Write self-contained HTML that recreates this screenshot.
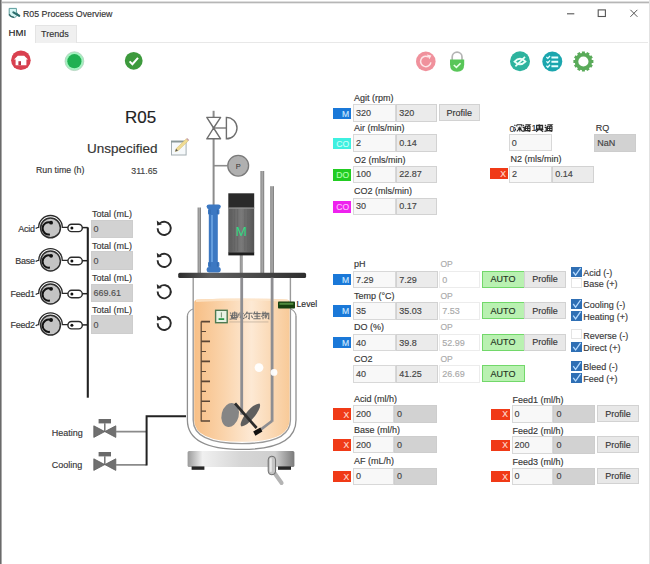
<!DOCTYPE html><html><head><meta charset="utf-8"><style>
html,body{margin:0;padding:0;background:#fff;}
#root{position:relative;width:650px;height:564px;overflow:hidden;background:#fff;font-family:"Liberation Sans",sans-serif;}
.t{position:absolute;white-space:nowrap;font-family:"Liberation Sans",sans-serif;-webkit-text-stroke:0.15px currentColor;}
.b{position:absolute;box-sizing:border-box;border:1px solid #d8d8d8;}
.w{background:#f8f8f8;}
.g1{background:#ebebeb;border-color:#d2d2d2;}
.g2{background:#d2d2d2;border-color:#cdcdcd;}
.op{background:#fff;border-color:#ececec;}
.auto{background:#b9f1b1;border-color:#72d86a;}
.prof{background:#e8e8e8;border-color:#d2d2d2;}
svg{position:absolute;left:0;top:0;}
</style></head><body><div id="root">

<div style="position:absolute;left:0;top:1px;width:650px;height:1px;background:#dedede"></div>
<div style="position:absolute;left:0;top:2px;width:650px;height:1px;background:#b6b6b6"></div>
<div style="position:absolute;left:0;top:3px;width:650px;height:1px;background:#e8e8e8"></div>
<div style="position:absolute;left:0;top:0;width:1px;height:564px;background:#6a6a6a"></div>
<div style="position:absolute;left:1px;top:0;width:1px;height:564px;background:#a8a8a8"></div>
<div style="position:absolute;left:649px;top:0;width:1px;height:564px;background:#e2e2e2"></div>
<div class="t" style="left:23px;top:7.8px;font-size:8.8px;line-height:12px;color:#333;">R05 Process Overview</div>
<div class="b" style="left:35px;top:25px;width:42px;height:18px;background:#f0f0f0;border-color:#e4e4e4;border-bottom:none"></div>
<div style="position:absolute;left:77px;top:42px;width:571px;height:1px;background:#e8e8e8"></div>
<div class="t" style="left:8.5px;top:26.6px;font-size:9.6px;line-height:12px;color:#222;">HMI</div>
<div class="t" style="left:41px;top:27.5px;font-size:9px;line-height:12px;color:#333;">Trends</div>
<div class="t" style="left:125px;top:107.5px;font-size:17px;line-height:20px;color:#222;">R05</div>
<div class="t" style="left:87px;top:139.5px;font-size:13.5px;line-height:18px;color:#333;">Unspecified</div>
<div class="t" style="left:36px;top:163.5px;font-size:8.8px;line-height:12px;color:#363636;">Run time (h)</div>
<div class="t" style="left:-42.5px;width:200px;text-align:right;top:164.7px;font-size:8.8px;line-height:12px;color:#444;">311.65</div>
<div class="t" style="left:92px;top:208.4px;font-size:9px;line-height:12px;color:#363636;">Total (mL)</div>
<div class="b g2" style="left:91px;top:219.8px;width:42.0px;height:18.6px;"></div>
<div class="t" style="left:93.5px;top:223.1px;font-size:9px;line-height:12px;color:#505050;">0</div>
<div class="t" style="left:92px;top:240.0px;font-size:9px;line-height:12px;color:#363636;">Total (mL)</div>
<div class="b g2" style="left:91px;top:251.4px;width:42.0px;height:18.6px;"></div>
<div class="t" style="left:93.5px;top:254.7px;font-size:9px;line-height:12px;color:#505050;">0</div>
<div class="t" style="left:92px;top:272.2px;font-size:9px;line-height:12px;color:#363636;">Total (mL)</div>
<div class="b g2" style="left:91px;top:283.6px;width:42.0px;height:18.6px;"></div>
<div class="t" style="left:93.5px;top:286.9px;font-size:9px;line-height:12px;color:#505050;">669.61</div>
<div class="t" style="left:92px;top:304.0px;font-size:9px;line-height:12px;color:#363636;">Total (mL)</div>
<div class="b g2" style="left:91px;top:315.4px;width:42.0px;height:18.6px;"></div>
<div class="t" style="left:93.5px;top:318.7px;font-size:9px;line-height:12px;color:#505050;">0</div>
<div class="t" style="left:-165.4px;width:200px;text-align:right;top:222.8px;font-size:9px;line-height:12px;color:#363636;letter-spacing:-0.3px;">Acid</div>
<div class="t" style="left:-165.4px;width:200px;text-align:right;top:255.0px;font-size:9px;line-height:12px;color:#363636;letter-spacing:-0.3px;">Base</div>
<div class="t" style="left:-165.4px;width:200px;text-align:right;top:287.5px;font-size:9px;line-height:12px;color:#363636;letter-spacing:-0.3px;">Feed1</div>
<div class="t" style="left:-165.4px;width:200px;text-align:right;top:319.2px;font-size:9px;line-height:12px;color:#363636;letter-spacing:-0.3px;">Feed2</div>
<div class="t" style="left:51.8px;top:426.7px;font-size:9px;line-height:12px;color:#363636;">Heating</div>
<div class="t" style="left:51.8px;top:459.2px;font-size:9px;line-height:12px;color:#363636;">Cooling</div>
<div class="t" style="left:296.6px;top:298.2px;font-size:8.6px;line-height:12px;color:#2a2a2a;">Level</div>
<div class="t" style="left:354px;top:92.0px;font-size:9px;line-height:12px;color:#363636;">Agit (rpm)</div>
<div class="b" style="left:332.8px;top:107.5px;width:18.0px;height:11.7px;background:#1a78d8;border:none"></div>
<div class="t" style="left:149.2px;width:200px;text-align:right;top:107.6px;font-size:8.6px;line-height:12px;color:#cfe8ff;">M</div>
<div class="b w" style="left:353px;top:104.2px;width:42.5px;height:17.5px;"></div>
<div class="t" style="left:356px;top:107.0px;font-size:9px;line-height:12px;color:#444;">320</div>
<div class="b g1" style="left:396.3px;top:104.2px;width:41.2px;height:17.5px;"></div>
<div class="t" style="left:399.3px;top:107.0px;font-size:9px;line-height:12px;color:#444;">320</div>
<div class="b prof" style="left:438.5px;top:104.2px;width:41.5px;height:16.5px;"></div>
<div class="t" style="left:359.25px;width:200px;text-align:center;top:106.5px;font-size:9px;line-height:12px;color:#363636;">Profile</div>
<div class="t" style="left:354px;top:122.2px;font-size:9px;line-height:12px;color:#363636;">Air (mls/min)</div>
<div class="b" style="left:332.8px;top:137.70000000000002px;width:18.0px;height:11.7px;background:#3ef0e0;border:none"></div>
<div class="t" style="left:149.2px;width:200px;text-align:right;top:137.9px;font-size:8.6px;line-height:12px;color:#c8fff8;">CO</div>
<div class="b w" style="left:353px;top:134.4px;width:42.5px;height:17.5px;"></div>
<div class="t" style="left:356px;top:137.2px;font-size:9px;line-height:12px;color:#444;">2</div>
<div class="b g1" style="left:396.3px;top:134.4px;width:41.2px;height:17.5px;"></div>
<div class="t" style="left:399.3px;top:137.2px;font-size:9px;line-height:12px;color:#444;">0.14</div>
<div class="t" style="left:354px;top:153.5px;font-size:9px;line-height:12px;color:#363636;">O2 (mls/min)</div>
<div class="b" style="left:332.8px;top:169.0px;width:18.0px;height:11.7px;background:#22cc22;border:none"></div>
<div class="t" style="left:149.2px;width:200px;text-align:right;top:169.2px;font-size:8.6px;line-height:12px;color:#b0ffb0;">DO</div>
<div class="b w" style="left:353px;top:165.7px;width:42.5px;height:17.5px;"></div>
<div class="t" style="left:356px;top:168.4px;font-size:9px;line-height:12px;color:#444;">100</div>
<div class="b g1" style="left:396.3px;top:165.7px;width:41.2px;height:17.5px;"></div>
<div class="t" style="left:399.3px;top:168.4px;font-size:9px;line-height:12px;color:#444;">22.87</div>
<div class="t" style="left:354px;top:185.4px;font-size:9px;line-height:12px;color:#363636;">CO2 (mls/min)</div>
<div class="b" style="left:332.8px;top:200.9px;width:18.0px;height:11.7px;background:#ee22ee;border:none"></div>
<div class="t" style="left:149.2px;width:200px;text-align:right;top:201.1px;font-size:8.6px;line-height:12px;color:#ffc0ff;">CO</div>
<div class="b w" style="left:353px;top:197.6px;width:42.5px;height:17.5px;"></div>
<div class="t" style="left:356px;top:200.3px;font-size:9px;line-height:12px;color:#444;">30</div>
<div class="b g1" style="left:396.3px;top:197.6px;width:41.2px;height:17.5px;"></div>
<div class="t" style="left:399.3px;top:200.3px;font-size:9px;line-height:12px;color:#444;">0.17</div>
<div class="t" style="left:509.4px;top:122.5px;font-size:9px;line-height:12px;color:#333;">0</div>
<div class="t" style="left:531.6px;top:122.2px;font-size:9px;line-height:12px;color:#333;">1</div>
<svg width="650" height="564" style="pointer-events:none"><path d="M514.4000000000001 125.0 l1 0.8 M514.2 127.4 l1.2 0.8 M514.4000000000001 131.4 l1.4 -2.6 M516.8000000000001 124.80000000000001 h5.0 v1.6 M516.8000000000001 124.80000000000001 v1.6 M517.8000000000001 128.0 h3.8 M519.8000000000001 126.4 v5 M519.6 128.4 l-2.8 3 M520.0 128.4 l2.4 3" fill="none" stroke="#2a2a2a" stroke-width="1.1"/><path d="M522.8 124.80000000000001 l1.2 1 M522.6 127.4 h1.6 v3 M522.4 131.4 q4 -1.2 7.8 0 M525.4 124.80000000000001 h4.4 l-1.4 1 M525.4 126.2 h4.6 v4.4 h-4.6 z M525.4 128.4 h4.6 M527.6999999999999 126.2 v4.4" fill="none" stroke="#2a2a2a" stroke-width="1.1"/><path d="M539.6 124.4 l-1 0.8 M536.6 125.4 h6 v3.4 h-6 z M539.6 125.4 v3.4 M537.6 127.0 h4 M535.6 129.6 h7.8 M539.6 128.8 l-3.6 3 M539.6 129.4 l3.6 2.4" fill="none" stroke="#2a2a2a" stroke-width="1.1"/><path d="M544.8 124.80000000000001 l1.2 1 M544.6 127.4 h1.6 v3 M544.4 131.4 q4 -1.2 7.8 0 M547.4 124.80000000000001 h4.4 l-1.4 1 M547.4 126.2 h4.6 v4.4 h-4.6 z M547.4 128.4 h4.6 M549.6999999999999 126.2 v4.4" fill="none" stroke="#2a2a2a" stroke-width="1.1"/></svg>
<div class="b w" style="left:508.8px;top:134.1px;width:42.9px;height:17.4px;"></div>
<div class="t" style="left:511.8px;top:136.8px;font-size:9px;line-height:12px;color:#444;">0</div>
<div class="t" style="left:595.8px;top:121.6px;font-size:9px;line-height:12px;color:#363636;">RQ</div>
<div class="b g2" style="left:594.2px;top:134.2px;width:42.3px;height:17.7px;"></div>
<div class="t" style="left:597.2px;top:137.1px;font-size:9px;line-height:12px;color:#444;">NaN</div>
<div class="t" style="left:510.5px;top:153.0px;font-size:9px;line-height:12px;color:#363636;">N2 (mls/min)</div>
<div class="b" style="left:490px;top:168.2px;width:17.7px;height:11.3px;background:#f03a17;border:none"></div>
<div class="t" style="left:306.09999999999997px;width:200px;text-align:right;top:168.2px;font-size:8.6px;line-height:12px;color:#ffd8cc;">X</div>
<div class="b w" style="left:509px;top:165.5px;width:42.8px;height:17.7px;"></div>
<div class="t" style="left:512px;top:168.3px;font-size:9px;line-height:12px;color:#444;">2</div>
<div class="b g1" style="left:552.2px;top:165.5px;width:42.0px;height:17.7px;"></div>
<div class="t" style="left:555.2px;top:168.3px;font-size:9px;line-height:12px;color:#444;">0.14</div>
<div class="t" style="left:354px;top:258.2px;font-size:9px;line-height:12px;color:#363636;">pH</div>
<div class="t" style="left:440.5px;top:258.0px;font-size:8.5px;line-height:12px;color:#aaa;">OP</div>
<div class="b" style="left:332.8px;top:273.8px;width:18.0px;height:11.2px;background:#1a78d8;border:none"></div>
<div class="t" style="left:149.2px;width:200px;text-align:right;top:273.7px;font-size:8.6px;line-height:12px;color:#cfe8ff;">M</div>
<div class="b w" style="left:353px;top:270.6px;width:42.5px;height:17.7px;"></div>
<div class="t" style="left:356px;top:273.5px;font-size:9px;line-height:12px;color:#444;">7.29</div>
<div class="b g1" style="left:396.3px;top:270.6px;width:41.7px;height:17.7px;"></div>
<div class="t" style="left:399.3px;top:273.5px;font-size:9px;line-height:12px;color:#444;">7.29</div>
<div class="b op" style="left:439.2px;top:270.6px;width:40.8px;height:17.7px;"></div>
<div class="t" style="left:442.2px;top:273.5px;font-size:9px;line-height:12px;color:#aaa;">0</div>
<div class="b auto" style="left:481.5px;top:270.6px;width:43.0px;height:17.0px;"></div>
<div class="t" style="left:403.0px;width:200px;text-align:center;top:273.1px;font-size:9px;line-height:12px;color:#1e321e;">AUTO</div>
<div class="b prof" style="left:524.2px;top:270.6px;width:41.8px;height:17.0px;"></div>
<div class="t" style="left:445.1px;width:200px;text-align:center;top:273.1px;font-size:9px;line-height:12px;color:#363636;">Profile</div>
<div class="t" style="left:354px;top:289.8px;font-size:9px;line-height:12px;color:#363636;">Temp (°C)</div>
<div class="t" style="left:440.5px;top:289.6px;font-size:8.5px;line-height:12px;color:#aaa;">OP</div>
<div class="b" style="left:332.8px;top:305.4px;width:18.0px;height:11.2px;background:#1a78d8;border:none"></div>
<div class="t" style="left:149.2px;width:200px;text-align:right;top:305.3px;font-size:8.6px;line-height:12px;color:#cfe8ff;">M</div>
<div class="b w" style="left:353px;top:302.2px;width:42.5px;height:17.7px;"></div>
<div class="t" style="left:356px;top:305.0px;font-size:9px;line-height:12px;color:#444;">35</div>
<div class="b g1" style="left:396.3px;top:302.2px;width:41.7px;height:17.7px;"></div>
<div class="t" style="left:399.3px;top:305.0px;font-size:9px;line-height:12px;color:#444;">35.03</div>
<div class="b op" style="left:439.2px;top:302.2px;width:40.8px;height:17.7px;"></div>
<div class="t" style="left:442.2px;top:305.0px;font-size:9px;line-height:12px;color:#aaa;">7.53</div>
<div class="b auto" style="left:481.5px;top:302.2px;width:43.0px;height:17.0px;"></div>
<div class="t" style="left:403.0px;width:200px;text-align:center;top:304.7px;font-size:9px;line-height:12px;color:#1e321e;">AUTO</div>
<div class="b prof" style="left:524.2px;top:302.2px;width:41.8px;height:17.0px;"></div>
<div class="t" style="left:445.1px;width:200px;text-align:center;top:304.7px;font-size:9px;line-height:12px;color:#363636;">Profile</div>
<div class="t" style="left:354px;top:321.2px;font-size:9px;line-height:12px;color:#363636;">DO (%)</div>
<div class="t" style="left:440.5px;top:321.0px;font-size:8.5px;line-height:12px;color:#aaa;">OP</div>
<div class="b" style="left:332.8px;top:336.8px;width:18.0px;height:11.2px;background:#1a78d8;border:none"></div>
<div class="t" style="left:149.2px;width:200px;text-align:right;top:336.7px;font-size:8.6px;line-height:12px;color:#cfe8ff;">M</div>
<div class="b w" style="left:353px;top:333.6px;width:42.5px;height:17.7px;"></div>
<div class="t" style="left:356px;top:336.5px;font-size:9px;line-height:12px;color:#444;">40</div>
<div class="b g1" style="left:396.3px;top:333.6px;width:41.7px;height:17.7px;"></div>
<div class="t" style="left:399.3px;top:336.5px;font-size:9px;line-height:12px;color:#444;">39.8</div>
<div class="b op" style="left:439.2px;top:333.6px;width:40.8px;height:17.7px;"></div>
<div class="t" style="left:442.2px;top:336.5px;font-size:9px;line-height:12px;color:#aaa;">52.99</div>
<div class="b auto" style="left:481.5px;top:333.6px;width:43.0px;height:17.0px;"></div>
<div class="t" style="left:403.0px;width:200px;text-align:center;top:336.1px;font-size:9px;line-height:12px;color:#1e321e;">AUTO</div>
<div class="b prof" style="left:524.2px;top:333.6px;width:41.8px;height:17.0px;"></div>
<div class="t" style="left:445.1px;width:200px;text-align:center;top:336.1px;font-size:9px;line-height:12px;color:#363636;">Profile</div>
<div class="t" style="left:354px;top:352.7px;font-size:9px;line-height:12px;color:#363636;">CO2</div>
<div class="t" style="left:440.5px;top:352.5px;font-size:8.5px;line-height:12px;color:#aaa;">OP</div>
<div class="b w" style="left:353px;top:365.1px;width:42.5px;height:17.7px;"></div>
<div class="t" style="left:356px;top:368.0px;font-size:9px;line-height:12px;color:#444;">40</div>
<div class="b g1" style="left:396.3px;top:365.1px;width:41.7px;height:17.7px;"></div>
<div class="t" style="left:399.3px;top:368.0px;font-size:9px;line-height:12px;color:#444;">41.25</div>
<div class="b op" style="left:439.2px;top:365.1px;width:40.8px;height:17.7px;"></div>
<div class="t" style="left:442.2px;top:368.0px;font-size:9px;line-height:12px;color:#aaa;">26.69</div>
<div class="b auto" style="left:481.5px;top:365.1px;width:43.0px;height:17.0px;"></div>
<div class="t" style="left:403.0px;width:200px;text-align:center;top:367.6px;font-size:9px;line-height:12px;color:#1e321e;">AUTO</div>
<div class="b" style="left:571.4px;top:266.8px;width:10.2px;height:10px;background:#2f6fb4;border:none"></div>
<svg width="650" height="564" style="pointer-events:none"><path d="M573.2 272.0 L575.6 275.1 L580.6 268.0" stroke="#b8dcff" stroke-width="1.3" fill="none"/></svg>
<div class="t" style="left:583.2px;top:267.1px;font-size:9px;line-height:12px;color:#3a3a3a;">Acid (-)</div>
<div class="b" style="left:571.4px;top:277.8px;width:10.2px;height:10px;background:#fff;border-color:#e4e4e4"></div>
<div class="t" style="left:583.2px;top:278.1px;font-size:9px;line-height:12px;color:#3a3a3a;">Base (+)</div>
<div class="b" style="left:571.4px;top:298.8px;width:10.2px;height:10px;background:#2f6fb4;border:none"></div>
<svg width="650" height="564" style="pointer-events:none"><path d="M573.2 304.0 L575.6 307.1 L580.6 300.0" stroke="#b8dcff" stroke-width="1.3" fill="none"/></svg>
<div class="t" style="left:583.2px;top:299.1px;font-size:9px;line-height:12px;color:#3a3a3a;">Cooling (-)</div>
<div class="b" style="left:571.4px;top:310.5px;width:10.2px;height:10px;background:#2f6fb4;border:none"></div>
<svg width="650" height="564" style="pointer-events:none"><path d="M573.2 315.7 L575.6 318.8 L580.6 311.7" stroke="#b8dcff" stroke-width="1.3" fill="none"/></svg>
<div class="t" style="left:583.2px;top:310.8px;font-size:9px;line-height:12px;color:#3a3a3a;">Heating (+)</div>
<div class="b" style="left:571.4px;top:329.3px;width:10.2px;height:10px;background:#fff;border-color:#e4e4e4"></div>
<div class="t" style="left:583.2px;top:329.6px;font-size:9px;line-height:12px;color:#3a3a3a;">Reverse (-)</div>
<div class="b" style="left:571.4px;top:341.7px;width:10.2px;height:10px;background:#2f6fb4;border:none"></div>
<svg width="650" height="564" style="pointer-events:none"><path d="M573.2 346.9 L575.6 350.0 L580.6 342.9" stroke="#b8dcff" stroke-width="1.3" fill="none"/></svg>
<div class="t" style="left:583.2px;top:342.0px;font-size:9px;line-height:12px;color:#3a3a3a;">Direct (+)</div>
<div class="b" style="left:571.4px;top:361px;width:10.2px;height:10px;background:#2f6fb4;border:none"></div>
<svg width="650" height="564" style="pointer-events:none"><path d="M573.2 366.2 L575.6 369.3 L580.6 362.2" stroke="#b8dcff" stroke-width="1.3" fill="none"/></svg>
<div class="t" style="left:583.2px;top:361.3px;font-size:9px;line-height:12px;color:#3a3a3a;">Bleed (-)</div>
<div class="b" style="left:571.4px;top:372.7px;width:10.2px;height:10px;background:#2f6fb4;border:none"></div>
<svg width="650" height="564" style="pointer-events:none"><path d="M573.2 377.9 L575.6 381.0 L580.6 373.9" stroke="#b8dcff" stroke-width="1.3" fill="none"/></svg>
<div class="t" style="left:583.2px;top:373.0px;font-size:9px;line-height:12px;color:#3a3a3a;">Feed (+)</div>
<div class="t" style="left:354px;top:392.8px;font-size:9px;line-height:12px;color:#363636;">Acid (ml/h)</div>
<div class="b" style="left:332.8px;top:408.40000000000003px;width:18.0px;height:11.7px;background:#f03a17;border:none"></div>
<div class="t" style="left:149.2px;width:200px;text-align:right;top:408.6px;font-size:8.6px;line-height:12px;color:#ffd8cc;">X</div>
<div class="b w" style="left:353px;top:405.3px;width:41.0px;height:17.4px;"></div>
<div class="t" style="left:356px;top:408.0px;font-size:9px;line-height:12px;color:#444;">200</div>
<div class="b g2" style="left:394px;top:405.3px;width:43.2px;height:17.4px;"></div>
<div class="t" style="left:397px;top:408.0px;font-size:9px;line-height:12px;color:#444;">0</div>
<div class="t" style="left:354px;top:423.6px;font-size:9px;line-height:12px;color:#363636;">Base (ml/h)</div>
<div class="b" style="left:332.8px;top:439.20000000000005px;width:18.0px;height:11.7px;background:#f03a17;border:none"></div>
<div class="t" style="left:149.2px;width:200px;text-align:right;top:439.4px;font-size:8.6px;line-height:12px;color:#ffd8cc;">X</div>
<div class="b w" style="left:353px;top:436.1px;width:41.0px;height:17.4px;"></div>
<div class="t" style="left:356px;top:438.8px;font-size:9px;line-height:12px;color:#444;">200</div>
<div class="b g2" style="left:394px;top:436.1px;width:43.2px;height:17.4px;"></div>
<div class="t" style="left:397px;top:438.8px;font-size:9px;line-height:12px;color:#444;">0</div>
<div class="t" style="left:354px;top:455.1px;font-size:9px;line-height:12px;color:#363636;">AF (mL/h)</div>
<div class="b" style="left:332.8px;top:470.70000000000005px;width:18.0px;height:11.7px;background:#f03a17;border:none"></div>
<div class="t" style="left:149.2px;width:200px;text-align:right;top:470.9px;font-size:8.6px;line-height:12px;color:#ffd8cc;">X</div>
<div class="b w" style="left:353px;top:467.6px;width:41.0px;height:17.4px;"></div>
<div class="t" style="left:356px;top:470.3px;font-size:9px;line-height:12px;color:#444;">0</div>
<div class="b g2" style="left:394px;top:467.6px;width:43.2px;height:17.4px;"></div>
<div class="t" style="left:397px;top:470.3px;font-size:9px;line-height:12px;color:#444;">0</div>
<div class="t" style="left:512.6px;top:393.8px;font-size:9px;line-height:12px;color:#363636;">Feed1 (ml/h)</div>
<div class="b" style="left:491.2px;top:408.5px;width:18.4px;height:11.0px;background:#f03a17;border:none"></div>
<div class="t" style="left:308.0px;width:200px;text-align:right;top:408.3px;font-size:8.6px;line-height:12px;color:#ffd8cc;">X</div>
<div class="b w" style="left:511.6px;top:405.3px;width:41.8px;height:17.3px;"></div>
<div class="t" style="left:514.6px;top:408.0px;font-size:9px;line-height:12px;color:#444;">0</div>
<div class="b g2" style="left:553.4px;top:405.3px;width:41.9px;height:17.3px;"></div>
<div class="t" style="left:556.4px;top:408.0px;font-size:9px;line-height:12px;color:#444;">0</div>
<div class="b prof" style="left:597px;top:405.3px;width:41.8px;height:16.8px;"></div>
<div class="t" style="left:517.9px;width:200px;text-align:center;top:407.7px;font-size:9px;line-height:12px;color:#363636;">Profile</div>
<div class="t" style="left:512.6px;top:424.8px;font-size:9px;line-height:12px;color:#363636;">Feed2 (ml/h)</div>
<div class="b" style="left:491.2px;top:439.5px;width:18.4px;height:11.0px;background:#f03a17;border:none"></div>
<div class="t" style="left:308.0px;width:200px;text-align:right;top:439.3px;font-size:8.6px;line-height:12px;color:#ffd8cc;">X</div>
<div class="b w" style="left:511.6px;top:436.3px;width:41.8px;height:17.3px;"></div>
<div class="t" style="left:514.6px;top:439.0px;font-size:9px;line-height:12px;color:#444;">200</div>
<div class="b g2" style="left:553.4px;top:436.3px;width:41.9px;height:17.3px;"></div>
<div class="t" style="left:556.4px;top:439.0px;font-size:9px;line-height:12px;color:#444;">0</div>
<div class="b prof" style="left:597px;top:436.3px;width:41.8px;height:16.8px;"></div>
<div class="t" style="left:517.9px;width:200px;text-align:center;top:438.7px;font-size:9px;line-height:12px;color:#363636;">Profile</div>
<div class="t" style="left:512.6px;top:456.1px;font-size:9px;line-height:12px;color:#363636;">Feed3 (ml/h)</div>
<div class="b" style="left:491.2px;top:470.8px;width:18.4px;height:11.0px;background:#f03a17;border:none"></div>
<div class="t" style="left:308.0px;width:200px;text-align:right;top:470.6px;font-size:8.6px;line-height:12px;color:#ffd8cc;">X</div>
<div class="b w" style="left:511.6px;top:467.6px;width:41.8px;height:17.3px;"></div>
<div class="t" style="left:514.6px;top:470.2px;font-size:9px;line-height:12px;color:#444;">0</div>
<div class="b g2" style="left:553.4px;top:467.6px;width:41.9px;height:17.3px;"></div>
<div class="t" style="left:556.4px;top:470.2px;font-size:9px;line-height:12px;color:#444;">0</div>
<div class="b prof" style="left:597px;top:467.6px;width:41.8px;height:16.8px;"></div>
<div class="t" style="left:517.9px;width:200px;text-align:center;top:470.0px;font-size:9px;line-height:12px;color:#363636;">Profile</div>
<svg width="650" height="564" viewBox="0 0 650 564">
<defs>
 <linearGradient id="plateG" x1="0" x2="1" y1="0" y2="0">
  <stop offset="0" stop-color="#2c2c2c"/><stop offset="0.25" stop-color="#5e5e5e"/><stop offset="0.6" stop-color="#4a4a4a"/><stop offset="1" stop-color="#2e2e2e"/>
 </linearGradient>
 <linearGradient id="liqG" x1="0" x2="1" y1="0" y2="0">
  <stop offset="0" stop-color="#f7bf86"/><stop offset="0.3" stop-color="#fad3aa"/><stop offset="0.6" stop-color="#fde9d4"/><stop offset="1" stop-color="#f8ca98"/>
 </linearGradient>
 <linearGradient id="baseG" x1="0" x2="1" y1="0" y2="0">
  <stop offset="0" stop-color="#9a9a9a"/><stop offset="0.14" stop-color="#f0f0f0"/><stop offset="0.5" stop-color="#d6d6d6"/><stop offset="0.82" stop-color="#cfcfcf"/><stop offset="1" stop-color="#7a7a7a"/>
 </linearGradient>
 <linearGradient id="motorG" x1="0" x2="1" y1="0" y2="0">
  <stop offset="0" stop-color="#5a5a5a"/><stop offset="0.5" stop-color="#7a7a7a"/><stop offset="1" stop-color="#555"/>
 </linearGradient>
 <linearGradient id="rodG" x1="0" x2="1" y1="0" y2="0">
  <stop offset="0" stop-color="#808080"/><stop offset="0.5" stop-color="#acacac"/><stop offset="1" stop-color="#787878"/>
 </linearGradient>
 
 
 
</defs>

<!-- title icon -->
<path d="M9.2 8.4 L16.4 8.4 L16.4 12 L18 14.6 L14.8 17.6 Q11 17.4 9.2 15.6 Z" fill="#d6f6f4" stroke="#5c9c9c" stroke-width="1"/>
<path d="M9.4 14.2 Q10 16.6 14 17.4" fill="none" stroke="#2f6060" stroke-width="1.3"/>
<path d="M13.4 12.4 L19.2 15.8" stroke="#2a6e6c" stroke-width="2.2" stroke-linecap="round"/>

<!-- window controls -->
<path d="M567 13.8 L574.3 13.8" stroke="#555" stroke-width="1.1"/>
<rect x="598.2" y="9.9" width="7.2" height="6.6" fill="none" stroke="#555" stroke-width="1.1"/>
<path d="M630.4 9.8 L637.4 16.8 M637.4 9.8 L630.4 16.8" stroke="#555" stroke-width="1"/>

<!-- toolbar icons -->
<circle cx="20.9" cy="60.3" r="9.8" fill="#d9404f"/>
<path d="M14 59.6 L17.8 55.8 L24.2 55.8 L28 59.6 L26.4 59.6 L26.4 65.2 L15.6 65.2 L15.6 59.6 Z" fill="#fff"/>
<rect x="18.4" y="61.2" width="2.6" height="4" fill="#b83545"/>
<circle cx="74.4" cy="61.2" r="9.4" fill="#a4f2c0" stroke="#b4cfbe" stroke-width="0.8"/>
<circle cx="74.4" cy="61.2" r="7.1" fill="#20b052"/>
<circle cx="133.7" cy="60.8" r="8.9" fill="#3d9a3d"/>
<path d="M129.6 61.4 L132.4 64.2 L138 57.8" fill="none" stroke="#fff" stroke-width="2"/>

<circle cx="425.8" cy="61.4" r="9.8" fill="#f0919c"/>
<path d="M428.2 56.8 A5.2 5.2 0 1 0 430.9 62.4" fill="none" stroke="#fde6e8" stroke-width="1.5"/>
<path d="M426.8 54.6 L431.4 55.4 L429.4 59.2 Z" fill="#fde6e8"/>
<path d="M452.2 60 L452.2 57 A4.9 4.9 0 0 1 462 57 L462 60" fill="none" stroke="#b4b4b4" stroke-width="1.7"/>
<path d="M450 59.6 H464.2 V64.2 Q464.2 71.8 457.1 71.8 Q450 71.8 450 64.2 Z" fill="#58c658"/>
<path d="M453.8 65 L456.4 67.4 L460.6 63.2" fill="none" stroke="#e8ffe8" stroke-width="1.6"/>

<circle cx="520" cy="61.2" r="10" fill="#2db39e"/>
<path d="M514.6 61.6 Q520 56 525.4 61.6 Q520 67 514.6 61.6 Z" fill="none" stroke="#eafff8" stroke-width="2"/>
<path d="M515.4 66.4 L525 56.8" stroke="#eafff8" stroke-width="1.7"/>
<circle cx="552.3" cy="61.5" r="10" fill="#1ba6ae"/>
<path d="M546.4 57 L547.8 58.4 L550 56 M546.4 61.4 L547.8 62.8 L550 60.4 M546.4 65.8 L547.8 67.2 L550 64.8" fill="none" stroke="#e8ffff" stroke-width="1.3"/>
<path d="M551.4 57.4 L558.2 57.4 M551.4 61.8 L558.2 61.8 M551.4 66.2 L558.2 66.2" stroke="#e8ffff" stroke-width="2"/>
<g transform="translate(583.4 61.5)" fill="#5aab5a"><rect x="-1.5" y="-10" width="3" height="2.6" transform="rotate(0)"/><rect x="-1.5" y="-10" width="3" height="2.6" transform="rotate(30)"/><rect x="-1.5" y="-10" width="3" height="2.6" transform="rotate(60)"/><rect x="-1.5" y="-10" width="3" height="2.6" transform="rotate(90)"/><rect x="-1.5" y="-10" width="3" height="2.6" transform="rotate(120)"/><rect x="-1.5" y="-10" width="3" height="2.6" transform="rotate(150)"/><rect x="-1.5" y="-10" width="3" height="2.6" transform="rotate(180)"/><rect x="-1.5" y="-10" width="3" height="2.6" transform="rotate(210)"/><rect x="-1.5" y="-10" width="3" height="2.6" transform="rotate(240)"/><rect x="-1.5" y="-10" width="3" height="2.6" transform="rotate(270)"/><rect x="-1.5" y="-10" width="3" height="2.6" transform="rotate(300)"/><rect x="-1.5" y="-10" width="3" height="2.6" transform="rotate(330)"/><circle r="6.9" fill="none" stroke="#5aab5a" stroke-width="3.6"/></g>

<!-- edit icon -->
<rect x="171.5" y="141.2" width="14.6" height="13.8" fill="#f6f9fb" stroke="#a4aeb2" stroke-width="1"/>
<rect x="171" y="140.7" width="15.6" height="1.8" fill="#8a9898"/>
<path d="M175.2 151.6 L176.2 148.6 L186.4 138.8 L188.4 140.8 L178.2 150.6 Z" fill="#f0dc94" stroke="#d4bc6c" stroke-width="0.5"/>
<path d="M186.2 139 L187.2 138 L189.2 140 L188.2 141 Z" fill="#c8a0a8"/>
<path d="M175.2 151.6 L176.1 148.8 L178 150.7 Z" fill="#555"/>

<!-- pumps -->
<g transform="translate(50.5 227.9)">
  <path d="M-14.8 0.6 Q-13.6 -0.4 -11.8 -0.6 A11.8 11.8 0 0 1 11.8 -0.6 L17.5 -0.6" fill="none" stroke="#2a2a2a" stroke-width="1.3"/>
  <circle cx="0" cy="0" r="9.9" fill="#c4c4c4" stroke="#2e2e2e" stroke-width="1.5"/>
  <path d="M0.2 -5.4 A6.2 6.2 0 1 0 -0.6 6.6" fill="none" stroke="#111" stroke-width="2"/>
  <circle cx="0.6" cy="-5.2" r="1.9" fill="#111"/>
  <rect x="17.4" y="-3.7" width="14.4" height="7.4" rx="3.7" fill="#fff" stroke="#2a2a2a" stroke-width="1.4"/>
  <circle cx="21.4" cy="0" r="1.5" fill="#111"/>
  <path d="M31.8 -0.3 L37.3 -0.3" stroke="#222" stroke-width="1.5"/>
 </g>
<g transform="translate(50.5 261)">
  <path d="M-14.8 0.6 Q-13.6 -0.4 -11.8 -0.6 A11.8 11.8 0 0 1 11.8 -0.6 L17.5 -0.6" fill="none" stroke="#2a2a2a" stroke-width="1.3"/>
  <circle cx="0" cy="0" r="9.9" fill="#c4c4c4" stroke="#2e2e2e" stroke-width="1.5"/>
  <path d="M0.2 -5.4 A6.2 6.2 0 1 0 -0.6 6.6" fill="none" stroke="#111" stroke-width="2"/>
  <circle cx="0.6" cy="-5.2" r="1.9" fill="#111"/>
  <rect x="17.4" y="-3.7" width="14.4" height="7.4" rx="3.7" fill="#fff" stroke="#2a2a2a" stroke-width="1.4"/>
  <circle cx="21.4" cy="0" r="1.5" fill="#111"/>
  <path d="M31.8 -0.3 L37.3 -0.3" stroke="#222" stroke-width="1.5"/>
 </g>
<g transform="translate(50.5 294)">
  <path d="M-14.8 0.6 Q-13.6 -0.4 -11.8 -0.6 A11.8 11.8 0 0 1 11.8 -0.6 L17.5 -0.6" fill="none" stroke="#2a2a2a" stroke-width="1.3"/>
  <circle cx="0" cy="0" r="9.9" fill="#c4c4c4" stroke="#2e2e2e" stroke-width="1.5"/>
  <path d="M0.2 -5.4 A6.2 6.2 0 1 0 -0.6 6.6" fill="none" stroke="#111" stroke-width="2"/>
  <circle cx="0.6" cy="-5.2" r="1.9" fill="#111"/>
  <rect x="17.4" y="-3.7" width="14.4" height="7.4" rx="3.7" fill="#fff" stroke="#2a2a2a" stroke-width="1.4"/>
  <circle cx="21.4" cy="0" r="1.5" fill="#111"/>
  <path d="M31.8 -0.3 L37.3 -0.3" stroke="#222" stroke-width="1.5"/>
 </g>
<g transform="translate(50.5 325.2)">
  <path d="M-14.8 0.6 Q-13.6 -0.4 -11.8 -0.6 A11.8 11.8 0 0 1 11.8 -0.6 L17.5 -0.6" fill="none" stroke="#2a2a2a" stroke-width="1.3"/>
  <circle cx="0" cy="0" r="9.9" fill="#c4c4c4" stroke="#2e2e2e" stroke-width="1.5"/>
  <path d="M0.2 -5.4 A6.2 6.2 0 1 0 -0.6 6.6" fill="none" stroke="#111" stroke-width="2"/>
  <circle cx="0.6" cy="-5.2" r="1.9" fill="#111"/>
  <rect x="17.4" y="-3.7" width="14.4" height="7.4" rx="3.7" fill="#fff" stroke="#2a2a2a" stroke-width="1.4"/>
  <circle cx="21.4" cy="0" r="1.5" fill="#111"/>
  <path d="M31.8 -0.3 L37.3 -0.3" stroke="#222" stroke-width="1.5"/>
 </g>
<path d="M87.8 227.4 L87.8 397.7" stroke="#222" stroke-width="2.1"/>

<!-- refresh -->
<g transform="translate(164.4 228.2)">
  <path d="M-6.8 0 A6.6 6.6 0 1 0 -4.6 -4.8" fill="none" stroke="#2a2a2a" stroke-width="1.9"/>
  <path d="M-7.6 -7.6 L-7.2 -2.8 L-2.6 -3.6 Z" fill="#2a2a2a"/>
 </g>
<g transform="translate(164.4 260.3)">
  <path d="M-6.8 0 A6.6 6.6 0 1 0 -4.6 -4.8" fill="none" stroke="#2a2a2a" stroke-width="1.9"/>
  <path d="M-7.6 -7.6 L-7.2 -2.8 L-2.6 -3.6 Z" fill="#2a2a2a"/>
 </g>
<g transform="translate(164.4 291.6)">
  <path d="M-6.8 0 A6.6 6.6 0 1 0 -4.6 -4.8" fill="none" stroke="#2a2a2a" stroke-width="1.9"/>
  <path d="M-7.6 -7.6 L-7.2 -2.8 L-2.6 -3.6 Z" fill="#2a2a2a"/>
 </g>
<g transform="translate(164.4 323.2)">
  <path d="M-6.8 0 A6.6 6.6 0 1 0 -4.6 -4.8" fill="none" stroke="#2a2a2a" stroke-width="1.9"/>
  <path d="M-7.6 -7.6 L-7.2 -2.8 L-2.6 -3.6 Z" fill="#2a2a2a"/>
 </g>

<!-- heating/cooling -->
<g transform="translate(104.8 431.6)">
  <rect x="-6.2" y="-12.6" width="12.4" height="4.4" fill="#6a6a6a"/>
  <path d="M0 -8.4 L0 0" stroke="#6a6a6a" stroke-width="1.4"/>
  <path d="M-11 -5.8 L0 0 L-11 5.8 Z M11 -5.8 L0 0 L11 5.8 Z" fill="#707070" stroke="#606060" stroke-width="0.8"/>
 </g>
<g transform="translate(104.8 464.6)">
  <rect x="-6.2" y="-12.6" width="12.4" height="4.4" fill="#6a6a6a"/>
  <path d="M0 -8.4 L0 0" stroke="#6a6a6a" stroke-width="1.4"/>
  <path d="M-11 -5.8 L0 0 L-11 5.8 Z M11 -5.8 L0 0 L11 5.8 Z" fill="#707070" stroke="#606060" stroke-width="0.8"/>
 </g>
<path d="M116 431.6 L146.4 431.6 M116 464.8 L146.4 464.8" stroke="#8a8a8a" stroke-width="1.8"/>
<path d="M146.6 465.6 L146.6 416.2 L186 416.2" fill="none" stroke="#222" stroke-width="2"/>

<!-- top valve & gauge -->
<path d="M213.6 110.8 L213.6 205" stroke="#8c8c8c" stroke-width="2"/>
<path d="M206.8 117.4 L220.6 117.4 L213.6 128 Z M206.8 138.8 L220.6 138.8 L213.6 128 Z" fill="#fff" stroke="#6e6e6e" stroke-width="1.4" stroke-linejoin="round"/>
<path d="M213.6 128 L226.4 128" stroke="#6e6e6e" stroke-width="1.3"/>
<path d="M226.4 117.4 L226.4 138.8 A10.6 10.7 0 0 0 226.4 117.4 Z" fill="#fff" stroke="#6e6e6e" stroke-width="1.4"/>
<path d="M213.6 165.7 L227.4 165.7" stroke="#8c8c8c" stroke-width="1.6"/>
<circle cx="238.2" cy="165.7" r="10.4" fill="#b0b0b0" stroke="#7a7a7a" stroke-width="1.3"/>
<text x="238.2" y="168.6" font-family="Liberation Sans" font-size="7.5" fill="#333" text-anchor="middle">P</text>

<!-- rods above plate -->
<rect x="197.6" y="207.5" width="3.4" height="66" fill="url(#rodG)"/>
<rect x="260.4" y="171" width="3.8" height="102" fill="url(#rodG)"/>
<rect x="270.2" y="186.2" width="3.8" height="87" fill="url(#rodG)"/>
<rect x="239.8" y="255" width="2.8" height="18" fill="url(#rodG)"/>

<!-- blue filter -->
<g fill="#3c78c2">
 <rect x="208.8" y="214" width="9" height="50"/>
 <path d="M206.6 206.4 Q206.6 204.6 209 204.6 L218.4 204.6 Q220.8 204.6 220.8 206.4 Q220.8 208.8 218 209.4 L209.4 209.4 Q206.6 208.8 206.6 206.4 Z"/>
 <rect x="208" y="209" width="11.4" height="5.6" rx="1"/>
 <rect x="208" y="262" width="11.4" height="5" rx="1"/>
 <path d="M206.6 270 Q206.6 267 209 267 L218.4 267 Q220.8 267 220.8 270 Q220.8 272.4 218.4 272.4 L209 272.4 Q206.6 272.4 206.6 270 Z"/>
</g>
<rect x="211" y="215" width="2" height="47" fill="#6ea6e4" opacity="0.8"/>
<path d="M210 209.6 L210 214 M217.4 209.6 L217.4 214 M210 262.4 L210 266.6 M217.4 262.4 L217.4 266.6" stroke="#2e64a8" stroke-width="0.8"/>

<!-- motor -->
<rect x="228.3" y="193.3" width="25.9" height="14.6" fill="#2a2a2a"/>
<rect x="228.3" y="207.6" width="25.9" height="45.2" fill="url(#motorG)"/>
<rect x="228.3" y="207.6" width="25.9" height="1.2" fill="#8e8e8e"/>
<g stroke="#606060" stroke-width="0.6">
 <path d="M231.6 209 L231.6 251 M234.6 209 L234.6 251 M237.6 209 L237.6 251 M244.8 209 L244.8 251 M247.8 209 L247.8 251 M250.8 209 L250.8 251"/>
</g>
<rect x="228.3" y="252.4" width="25.9" height="3" fill="#1e1e1e"/>
<text x="241.1" y="236.4" font-family="Liberation Sans" font-size="13.6" fill="#34d884" text-anchor="middle">M</text>

<!-- plate -->
<rect x="178.2" y="272.8" width="127.9" height="5.2" rx="1.6" fill="url(#plateG)"/>

<!-- vessel -->
<path d="M187.4 316 Q187.8 311 193 309 M296 316 Q295.6 311 290.6 309" fill="none" stroke="#9a9a9a" stroke-width="1.2"/>
<path d="M187.4 316 L187.4 420 Q187.4 449.4 241.8 449.4 Q296 449.4 296 420 L296 316" fill="#fff" stroke="#8e8e8e" stroke-width="1.3"/>
<path d="M193.2 278 L193.2 420 Q193.2 443.6 241.8 443.6 Q290.4 443.6 290.4 420 L290.4 278" fill="none" stroke="#9a9a9a" stroke-width="1.4"/>
<path d="M194.2 302.6 Q194.2 299.6 198 299.4 Q242 297.6 286 299.4 Q289.6 299.6 289.6 302.6 L289.6 420 Q289.6 441.8 241.8 441.8 Q194.2 441.8 194.2 420 Z" fill="url(#liqG)"/>
<path d="M196 300.8 Q242 298.6 288 300.8" fill="none" stroke="#fde6cc" stroke-width="2.2" opacity="0.8"/>

<!-- scale -->
<g stroke="#5a4636" stroke-width="1.6">
 <path d="M201.2 321.4 L201.2 421.6" stroke-width="1.2"/>
 <path d="M201.2 321.6 L210 321.6 M201.2 341.4 L210 341.4 M201.2 361.4 L210 361.4 M201.2 381.4 L210 381.4 M201.2 401.2 L210 401.2 M201.2 421 L210 421"/>
 <path d="M201.2 331.5 L206 331.5 M201.2 351.5 L206 351.5 M201.2 371.5 L206 371.5 M201.2 391.4 L206 391.4 M201.2 411.2 L206 411.2" stroke-width="1.2"/>
</g>

<!-- logo -->
<rect x="215.6" y="310.3" width="11.6" height="12.4" fill="#e8f2e4" stroke="#4e7a52" stroke-width="1.4"/>
<path d="M221.4 312.4 L221.4 317.4" stroke="#5a7a5a" stroke-width="0.8"/>
<rect x="218.6" y="318.2" width="5.6" height="1.8" fill="#2a9a4a"/>
<path d="M230.0 312.6 l1.2 1 M229.9 315.20000000000005 l1.6 0 l0 3 M229.6 319.20000000000005 q3 -1 7.4 0 M232.6 313.0 h4.2 v4.6 h-4.2 z M232.6 315.3 h4.2 M234.7 311.6 v6" fill="none" stroke="#6e6e6e" stroke-width="1.1"/>
<path d="M238.5 313.6 q-0.6 3 -1 4 M239.9 312.6 q0 5 2 6 q1.5 0.4 2.6 -1 M243.5 313.0 l-3.6 5 M240.9 311.6 l1 1 M244.9 314.40000000000003 l-0.8 2" fill="none" stroke="#6e6e6e" stroke-width="1.1"/>
<path d="M247.4 311.6 l-2 3 M246.6 313.20000000000005 h6.0 M249.20000000000002 313.6 v5.199999999999999 l-1 -0.6 M247.0 315.6 l-1.4 2.4 M251.4 315.6 l1.2 2.4" fill="none" stroke="#6e6e6e" stroke-width="1.1"/>
<path d="M254.9 311.6 l-1.4 3 M254.10000000000002 313.6 h6.6000000000000005 M254.3 316.20000000000005 h6.0 M253.3 318.80000000000007 h7.4 M257.1 311.6 v7.199999999999999" fill="none" stroke="#6e6e6e" stroke-width="1.1"/>
<path d="M261.59999999999997 313.6 h3 M263.0 311.6 v7.6 M261.2 316.6 l3.4 -1.6 M265.4 311.6 l-0.8 2.4 M265.0 313.20000000000005 h3.8000000000000003 v5.6 l-1 -0.6 M266.2 313.6 l-1.4 4 M267.59999999999997 313.6 l-2 5" fill="none" stroke="#6e6e6e" stroke-width="1.1"/>
<rect x="229.4" y="321.4" width="39" height="1.1" fill="#a89888" opacity="0.5"/>

<!-- shaft & probe rod inside -->
<rect x="240.3" y="277.7" width="2.8" height="137" fill="#8e8e92"/>
<rect x="270.7" y="277.7" width="2.8" height="144" fill="#8e8e92"/>
<path d="M272 421 L261 429.4" stroke="#8e8e92" stroke-width="2.6"/>
<path d="M253.2 431.4 L260.4 427.6 L262.4 431.6 L255.4 435.8 Z" fill="#111"/>

<!-- impeller -->
<ellipse cx="230.2" cy="415" rx="8.6" ry="12.2" transform="rotate(14 230.2 415)" fill="#858585"/>
<path d="M259.4 403.6 Q262 406 255 416 Q247 426 241.6 426.4 Q238.6 425 244.6 415.2 Q252 404.6 259.4 403.6 Z" fill="#5e5e5e"/>
<path d="M235 403.4 L256.6 428" stroke="#2c2c2c" stroke-width="2.8"/>

<!-- bubbles -->
<circle cx="259" cy="367.6" r="4.4" fill="#fff" opacity="0.95"/>
<circle cx="274" cy="372.4" r="3.4" fill="#fff" opacity="0.95"/>

<!-- base -->
<rect x="187.6" y="451" width="106.8" height="16" rx="1.5" fill="url(#baseG)"/>
<rect x="191.6" y="466.4" width="12.8" height="3.4" fill="#262626"/>
<rect x="278" y="466.4" width="13" height="3.4" fill="#262626"/>
<path d="M272.4 470 L281.6 483" fill="none" stroke="#b4b4b4" stroke-width="4" stroke-linecap="round"/>
<rect x="268.2" y="456.2" width="7.4" height="18.6" rx="3.7" fill="#c4c4c4" stroke="#6a6a6a" stroke-width="1"/>
<rect x="269.8" y="458" width="2" height="14" rx="1" fill="#e8e8e8"/>

<!-- level -->
<rect x="278" y="301.5" width="17" height="7" rx="0.8" fill="#17400f"/>
<rect x="279.4" y="302.8" width="14" height="2" fill="#4f8a3e"/>


</svg>

</div></body></html>
